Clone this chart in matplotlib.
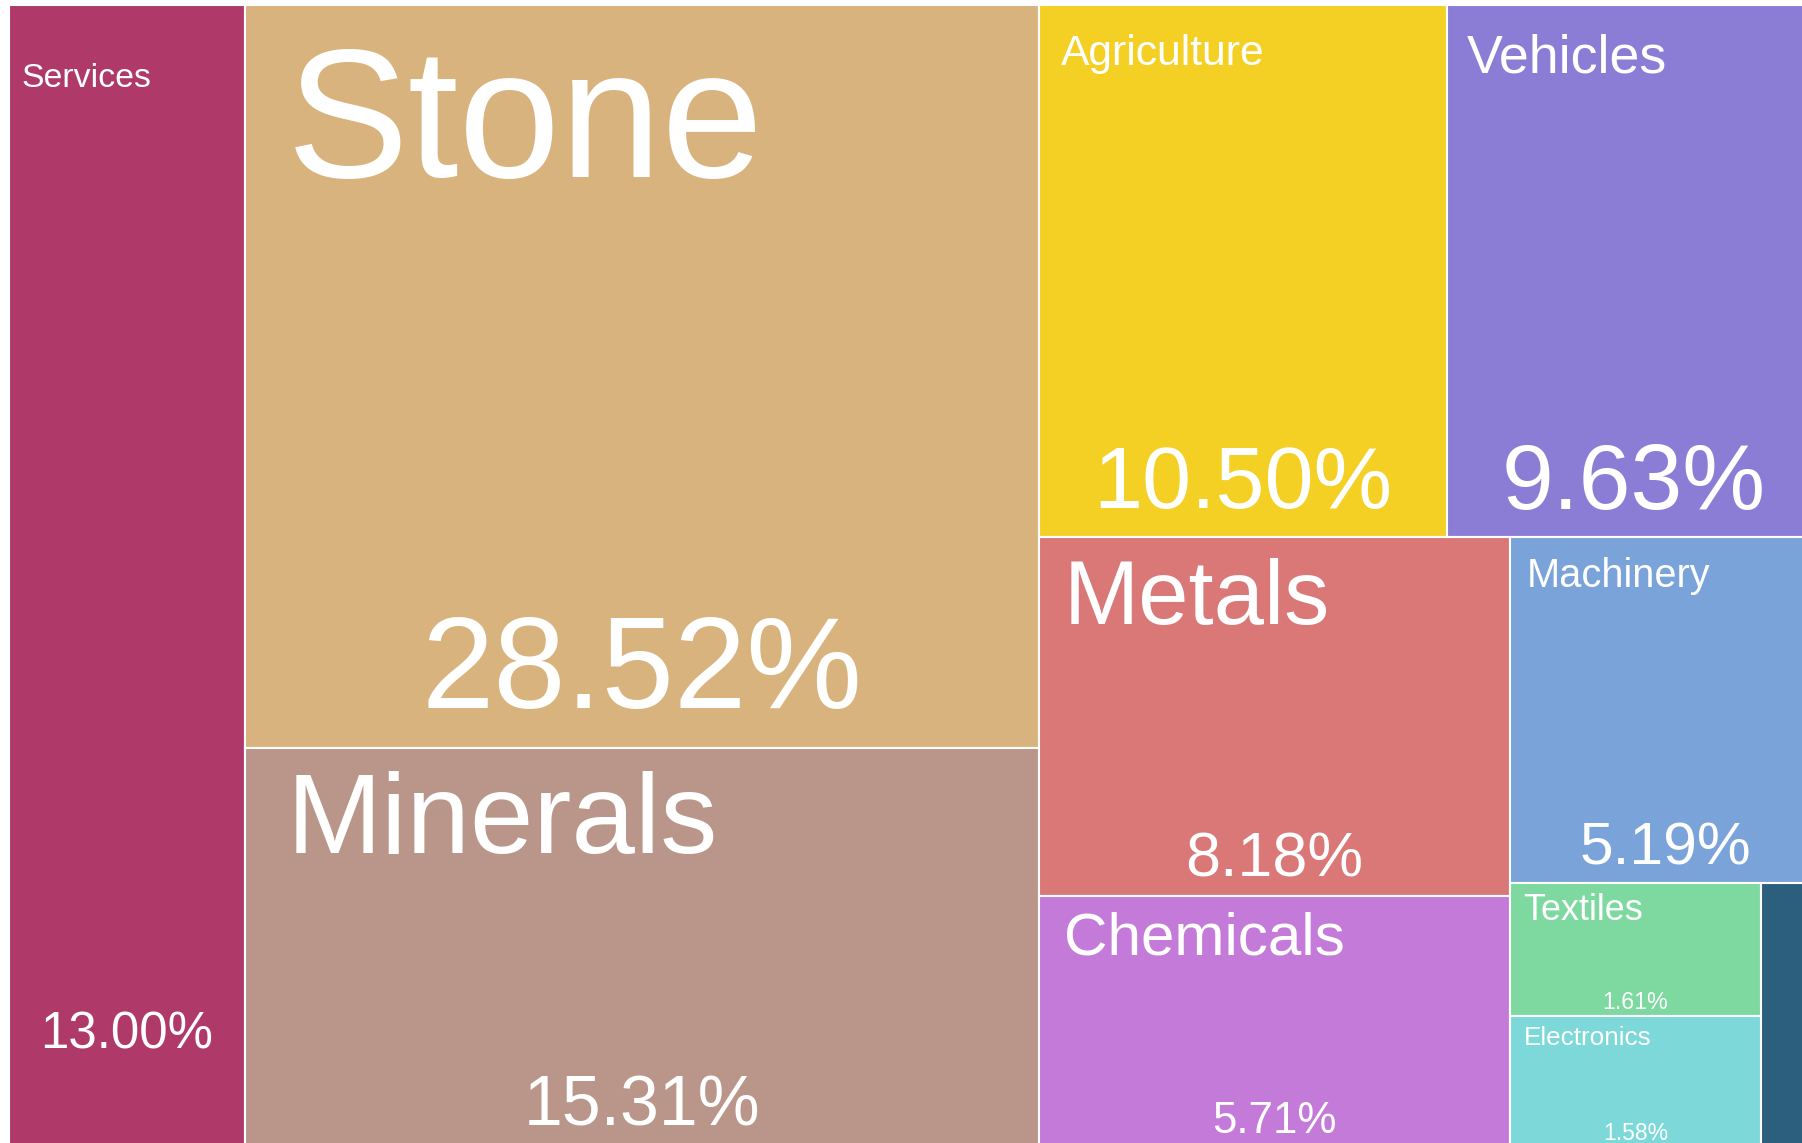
import matplotlib
matplotlib.use("Agg")
import matplotlib.pyplot as plt
from matplotlib.patches import Rectangle
from matplotlib.textpath import TextPath
from matplotlib.font_manager import FontProperties

# export shares in percent
top_names = ["Services"]
top_shares = [13.00]
goods_names = ["Stone", "Minerals", "Agriculture", "Vehicles", "Metals",
               "Chemicals", "Machinery", "Textiles", "Electronics", "Other"]
goods_shares = [28.52, 15.31, 10.50, 9.63, 8.18, 5.71, 5.19, 1.61, 1.58, 0.77]

colors = {
    "Services": "#af3a6a",
    "Stone": "#d8b37d",
    "Minerals": "#b99689",
    "Agriculture": "#f4d024",
    "Vehicles": "#8b7dd6",
    "Metals": "#d97877",
    "Machinery": "#7aa3da",
    "Chemicals": "#c47ad9",
    "Textiles": "#7dd99f",
    "Electronics": "#7dd8d9",
    "Other": "#2b5f7d",
}

FONT = "Liberation Sans"
fp = FontProperties(family=FONT)

# full treemap size (px); the screenshot only shows part of it
W, H = 1811.9, 1142.0
OFF_X, OFF_Y = 9.2, 4.7
FIG_W, FIG_H = 1802, 1143


def worst(row, side):
    s = sum(row)
    return max(max(side * side * a / (s * s), s * s / (side * side * a)) for a in row)


def squarify(vals, x, y, w, h):
    total = sum(vals)
    areas = [v / total * w * h for v in vals]
    rects = []
    i = 0
    while i < len(areas):
        side = min(w, h)
        row = [areas[i]]
        j = i + 1
        while j < len(areas) and worst(row + [areas[j]], side) <= worst(row, side):
            row.append(areas[j])
            j += 1
        s = sum(row)
        if w >= h:
            cw = s / h
            yy = y
            for a in row:
                rects.append((x, yy, cw, a / cw))
                yy += a / cw
            x += cw
            w -= cw
        else:
            rh = s / w
            xx = x
            for a in row:
                rects.append((xx, y, a / rh, rh))
                xx += a / rh
            y += rh
            h -= rh
        i = j
    return rects


def em_width(s):
    return TextPath((0, 0), s, size=1, prop=fp).get_extents().width


# services column first, then goods squarified in the rest
sv_w = top_shares[0] / 100 * W
tiles = [(top_names[0], top_shares[0], (0, 0, sv_w, H))]
for n, v, r in zip(goods_names, goods_shares,
                   squarify(goods_shares, sv_w, 0, W - sv_w, H)):
    tiles.append((n, v, r))

fig = plt.figure(figsize=(FIG_W / 100, FIG_H / 100), dpi=100)
ax = fig.add_axes([0, 0, 1, 1])
ax.set_xlim(-OFF_X, FIG_W - OFF_X)
ax.set_ylim(FIG_H - OFF_Y, -OFF_Y)
ax.axis("off")

px2pt = 0.72
for name, val, (x, y, w, h) in tiles:
    ax.add_patch(Rectangle((x, y), w, h, facecolor=colors[name],
                           edgecolor="white", linewidth=1.5))
    if val < 1:
        continue
    # name, top left
    name_px = 1.15 * w / len(name)
    ax.text(x + 0.053 * w, y + 3.45 + 0.0483 * h, name, color="white",
            fontsize=name_px * px2pt, family=FONT, ha="left", va="top")
    # share, bottom centre
    pct = "%.2f%%" % val
    pct_px = min(0.175 * h, 0.71 * w / em_width(pct))
    yc = y + h - 0.0971 * h - 0.1087 * pct_px
    ax.text(x + w / 2, yc + 0.358 * pct_px, pct, color="white",
            fontsize=pct_px * px2pt, family=FONT, ha="center", va="baseline")

fig.savefig("out.png", dpi=100, facecolor="white")
